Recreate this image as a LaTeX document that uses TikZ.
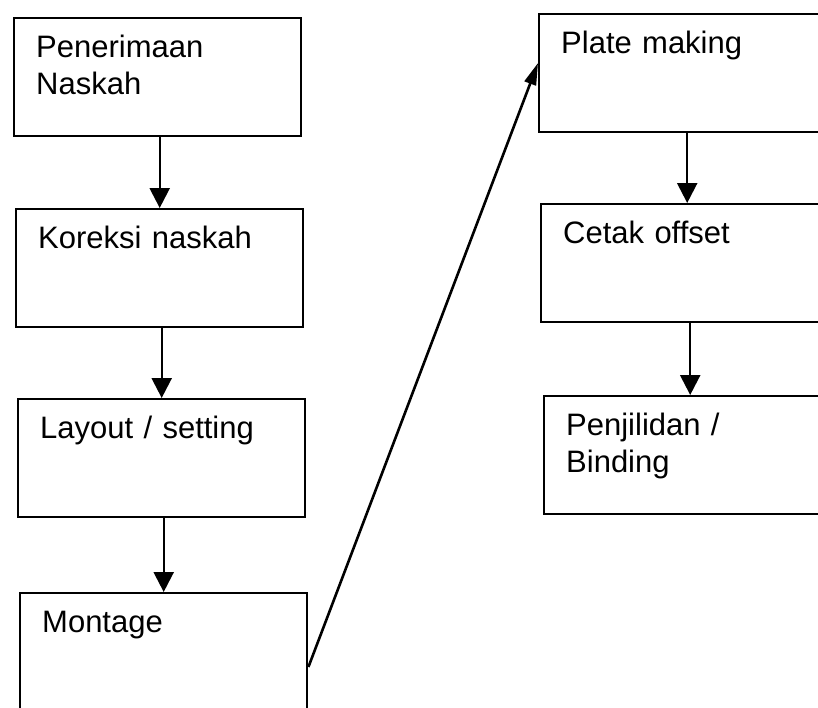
\documentclass[tikz,border=0pt]{standalone}
\usepackage{fontspec}
\setmainfont{Liberation Sans}
\usetikzlibrary{arrows.meta}
\begin{document}
\begin{tikzpicture}[x=1pt,y=-1pt,
  stepbox/.style={draw, line width=2.4pt, anchor=north west, align=left,
    inner xsep=22pt, inner ysep=0pt, text height=39pt, text depth=79pt,
    font=\fontsize{31}{37}\selectfont},
  leftbox/.style={stepbox, text width=243pt},
  rightbox/.style={stepbox, text width=248pt},
  flow/.style={line width=2.4pt, -{Triangle[width=20pt,length=20pt]}},
  jump/.style={line width=2.6pt, -{Triangle[width=12pt,length=22pt]}}]
\useasboundingbox (0,0) rectangle (818,707);
\clip (0,0) rectangle (818,707);
\fill[white] (0,0) rectangle (818,707);

% left column
\node[leftbox] (L1) at (13,17)  {Penerimaan\\Naskah};
\node[leftbox] (L2) at (15,208) {Koreksi naskah};
\node[leftbox] (L3) at (17,398) {Layout / setting};
\node[leftbox, text depth=120pt] (L4) at (19,592) {Montage};

% right column
\node[rightbox] (R1) at (538,13)  {Plate making};
\node[rightbox] (R2) at (540,203) {Cetak offset};
\node[rightbox] (R3) at (543,395) {Penjilidan /\\Binding};

% connectors
\draw[flow] (L1.south -| L2.north) -- (L2.north);
\draw[flow] (L2.south -| L3.north) -- (L3.north);
\draw[flow] (L3.south -| L4.north) -- (L4.north);
\draw[jump] ([yshift=-75pt]L4.north east) -- ([yshift=-50pt]R1.north west);
\draw[flow] (R1.south -| R2.north) -- (R2.north);
\draw[flow] (R2.south -| R3.north) -- (R3.north);
\end{tikzpicture}
\end{document}
